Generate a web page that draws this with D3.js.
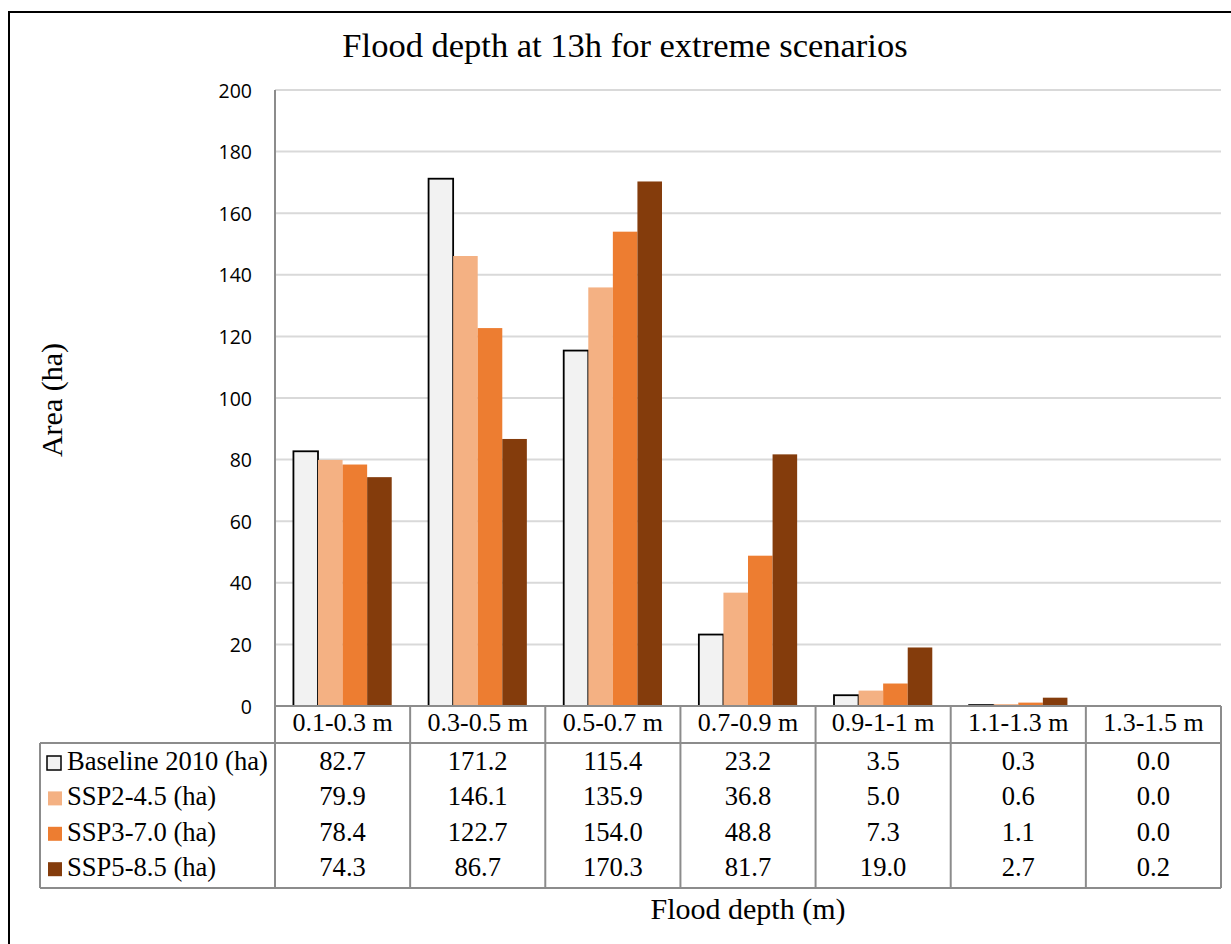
<!DOCTYPE html>
<html>
<head>
<meta charset="utf-8">
<script src="https://cdn.jsdelivr.net/npm/d3@7"></script>
<style>
  html, body { margin: 0; padding: 0; background: #fff; }
  svg { display: block; }
</style>
</head>
<body>
<svg id="chart" width="1231" height="944"></svg>
<script>
// Flood depth classes and area (ha) per scenario
const categories = ["0.1-0.3 m", "0.3-0.5 m", "0.5-0.7 m", "0.7-0.9 m", "0.9-1-1 m", "1.1-1.3 m", "1.3-1.5 m"];
const seriesNames = ["Baseline 2010 (ha)", "SSP2-4.5 (ha)", "SSP3-7.0 (ha)", "SSP5-8.5 (ha)"];
const baseline2010 = [82.7, 171.2, 115.4, 23.2, 3.5, 0.3, 0.0];
const ssp245 = [79.9, 146.1, 135.9, 36.8, 5.0, 0.6, 0.0];
const ssp370 = [78.4, 122.7, 154.0, 48.8, 7.3, 1.1, 0.0];
const ssp585 = [74.3, 86.7, 170.3, 81.7, 19.0, 2.7, 0.2];
const yTicks = [0, 20, 40, 60, 80, 100, 120, 140, 160, 180, 200];

const seriesValues = [baseline2010, ssp245, ssp370, ssp585];
const seriesFill = ["#f2f2f2", "#f4b183", "#ed7d31", "#843c0c"];
const seriesStroke = ["#000000", "none", "none", "none"];

const svg = d3.select("#chart");
const serif = "'Liberation Serif', 'Times New Roman', serif";
const sans = "'Open Sans', 'Noto Sans', sans-serif";
const lineGray = "#8c8c8c";

// Layout
const plot = { left: 275, right: 1221, top: 90, bottom: 706 };
const table = { legendLeft: 40, headerBottom: 743, bottom: 888 };

// Outer frame (left and top edges visible)
svg.append("rect")
  .attr("x", 9).attr("y", 12).attr("width", 1260).attr("height", 980)
  .attr("fill", "none").attr("stroke", "#000").attr("stroke-width", 2);

const x = d3.scaleBand().domain(categories).range([plot.left, plot.right]).padding(0);
const xs = d3.scaleBand().domain(d3.range(seriesNames.length))
  .range([0, x.bandwidth()]).paddingInner(0).paddingOuter(0.75);
const y = d3.scaleLinear().domain([0, 200]).range([plot.bottom, plot.top]);

// Gridlines
svg.append("g").selectAll("line")
  .data(yTicks.filter(d => d > 0))
  .join("line")
  .attr("x1", plot.left).attr("x2", plot.right)
  .attr("y1", d => y(d)).attr("y2", d => y(d))
  .attr("stroke", "#d9d9d9").attr("stroke-width", 2);

// Y axis labels
const yAxis = d3.axisLeft(y).tickValues(yTicks).tickSize(0).tickPadding(0).tickFormat(d3.format("d"));
const yg = svg.append("g").attr("transform", `translate(252,0)`).call(yAxis);
yg.select(".domain").remove();
yg.selectAll("text")
  .attr("font-family", sans).attr("font-size", 19.5).attr("fill", "#000")
  .attr("dy", "0.36em");

// Bars
const groups = svg.append("g").selectAll("g")
  .data(seriesValues)
  .join("g");
groups.each(function (vals, si) {
  d3.select(this).selectAll("rect")
    .data(vals.map((v, ci) => ({ v, c: categories[ci] })))
    .join("rect")
    .filter(d => d.v > 0)
    .attr("x", d => x(d.c) + xs(si))
    .attr("width", xs.bandwidth())
    .attr("y", d => y(d.v))
    .attr("height", d => y(0) - y(d.v))
    .attr("fill", seriesFill[si])
    .attr("stroke", seriesStroke[si])
    .attr("stroke-width", 1.8);
});

// Data table
const tg = svg.append("g").attr("stroke", lineGray).attr("stroke-width", 2).attr("fill", "none");
// axis line / table top
tg.append("line").attr("x1", plot.left).attr("x2", plot.right).attr("y1", plot.bottom).attr("y2", plot.bottom);
// vertical value axis line extended through table
tg.append("line").attr("x1", plot.left).attr("x2", plot.left).attr("y1", plot.top).attr("y2", table.bottom);
tg.append("line").attr("x1", table.legendLeft).attr("x2", plot.right).attr("y1", table.headerBottom).attr("y2", table.headerBottom);
tg.append("line").attr("x1", table.legendLeft).attr("x2", plot.right).attr("y1", table.bottom).attr("y2", table.bottom);
tg.append("line").attr("x1", table.legendLeft).attr("x2", table.legendLeft).attr("y1", table.headerBottom).attr("y2", table.bottom);
tg.selectAll("line.col")
  .data(categories)
  .join("line").attr("class", "col")
  .attr("x1", d => x(d) + x.bandwidth()).attr("x2", d => x(d) + x.bandwidth())
  .attr("y1", plot.bottom).attr("y2", table.bottom);

// Category header labels
svg.append("g").selectAll("text")
  .data(categories)
  .join("text")
  .attr("x", d => x(d) + x.bandwidth() / 2)
  .attr("y", plot.bottom + 25)
  .attr("text-anchor", "middle")
  .attr("font-family", serif).attr("font-size", 26)
  .text(d => d);

// Table rows: legend key + values
const rows = svg.append("g").selectAll("g")
  .data(seriesValues)
  .join("g")
  .attr("transform", (d, i) => `translate(0,${table.headerBottom + 27 + i * 35.4})`);

rows.append("rect")
  .attr("x", (d, i) => i === 0 ? 47 : 48)
  .attr("y", -14)
  .attr("width", 14).attr("height", 14)
  .attr("fill", (d, i) => seriesFill[i])
  .attr("stroke", (d, i) => seriesStroke[i])
  .attr("stroke-width", 1.5);

rows.append("text")
  .attr("x", 67).attr("y", 0)
  .attr("font-family", serif).attr("font-size", 26.6)
  .text((d, i) => seriesNames[i]);

rows.each(function (vals) {
  d3.select(this).selectAll("text.val")
    .data(vals.map((v, ci) => ({ v, c: categories[ci] })))
    .join("text").attr("class", "val")
    .attr("x", d => x(d.c) + x.bandwidth() / 2)
    .attr("y", 0)
    .attr("text-anchor", "middle")
    .attr("font-family", serif).attr("font-size", 26.6)
    .text(d => d3.format(".1f")(d.v));
});

// Titles
svg.append("text")
  .attr("x", 625).attr("y", 57)
  .attr("text-anchor", "middle")
  .attr("font-family", serif).attr("font-size", 34.5)
  .text("Flood depth at 13h for extreme scenarios");

svg.append("text")
  .attr("x", (plot.left + plot.right) / 2).attr("y", 919)
  .attr("text-anchor", "middle")
  .attr("font-family", serif).attr("font-size", 30)
  .text("Flood depth (m)");

svg.append("text")
  .attr("transform", `translate(62,${(plot.top + plot.bottom) / 2 + 2}) rotate(-90)`)
  .attr("text-anchor", "middle")
  .attr("font-family", serif).attr("font-size", 30)
  .text("Area (ha)");
</script>
</body>
</html>
